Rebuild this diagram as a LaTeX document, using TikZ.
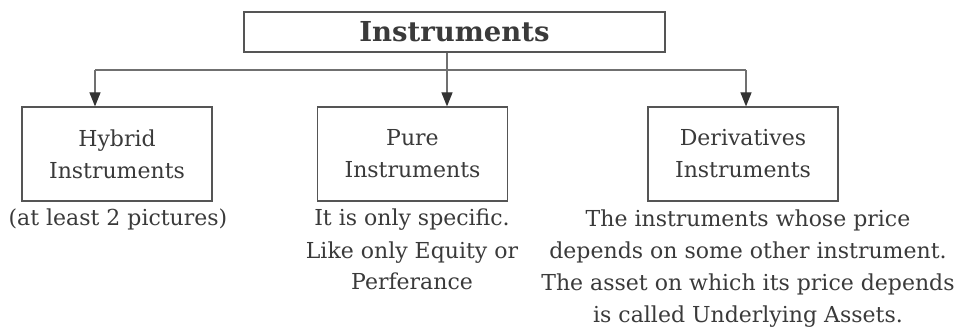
\documentclass[tikz,border=0pt]{standalone}
\usepackage{fontspec}
\setmainfont{DejaVu Serif}
\usetikzlibrary{arrows.meta}
\definecolor{txt}{HTML}{3A3A3A}
\definecolor{boxc}{HTML}{555555}
\definecolor{linec}{HTML}{707070}
\definecolor{tipc}{HTML}{333333}
\begin{document}
\begin{tikzpicture}[x=1pt,y=-1pt,
  box/.style={draw=boxc, line width=1.2pt, inner sep=0pt, text=txt, align=center,
    font=\fontsize{22}{32}\selectfont, minimum width=190pt, minimum height=94pt},
  desc/.style={text=txt, align=center, font=\fontsize{22}{32}\selectfont, inner sep=0pt, anchor=base},
  conn/.style={draw=linec, line width=1.2pt},
  arr/.style={conn, -{Triangle[length=14pt,width=11pt,color=tipc]}}]
\useasboundingbox (0,0) rectangle (959,331);
\node[box, minimum width=421pt, minimum height=40pt, font=\bfseries\fontsize{27.5}{30}\selectfont] (top) at (454.5,32) {Instruments};
\node[box] (hyb) at (117,154) {Hybrid\\Instruments};
\node[box] (pure) at (412.5,154) {Pure\\Instruments};
\node[box] (der) at (743,154) {Derivatives\\Instruments};
% base anchor = baseline of the last line
\node[desc] (hybd) at (118,226) {(at least 2 pictures)};
\node[desc] (pured) at (412,290) {It is only specific.\\Like only Equity or\\Perferance};
\node[desc] (derd) at (748,322) {The instruments whose price\\depends on some other instrument.\\The asset on which its price depends\\is called Underlying Assets.};
\coordinate (j) at (447,70);
\coordinate (L) at (95,70);
\coordinate (R) at (746,70);
\draw[conn] (top.south -| j) -- (j);
\draw[conn] (L) -- (R);
\draw[arr] (L) -- (L |- hyb.north);
\draw[arr] (j) -- (j |- pure.north);
\draw[arr] (R) -- (R |- der.north);
\end{tikzpicture}
\end{document}
